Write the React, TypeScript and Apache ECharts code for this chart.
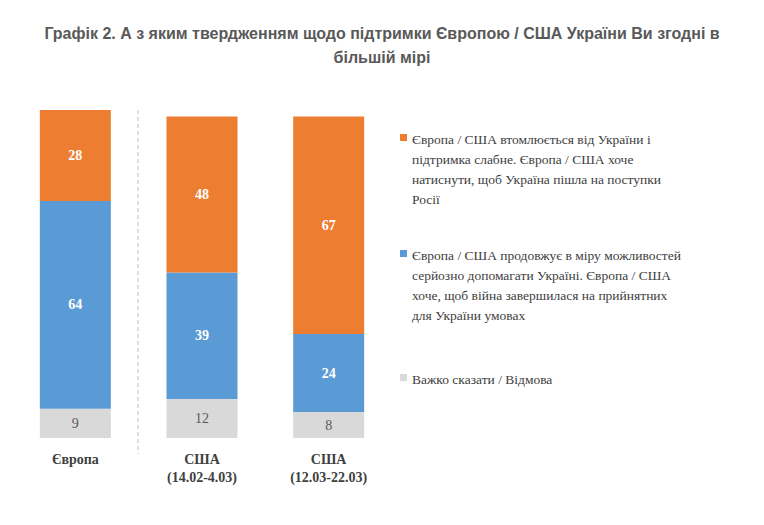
import React, { useEffect, useRef } from 'react';
import * as echarts from 'echarts';

const categories = ['Європа', 'США\n(14.02-4.03)', 'США\n(12.03-22.03)'];
const hardToSay = [9, 12, 8];
const helps = [64, 39, 24];
const tired = [28, 48, 67];

const nameTired = 'Європа / США втомлюється від України і\nпідтримка слабне. Європа / США хоче\nнатиснути, щоб Україна пішла на поступки\nРосії';
const nameHelps = 'Європа / США продовжує в міру можливостей\nсерйозно допомагати Україні. Європа / США\nхоче, щоб війна завершилася на прийнятних\nдля України умовах';
const nameHard = 'Важко сказати / Відмова';

const colors = { tired: '#ED7D31', helps: '#5B9BD5', hard: '#D9D9D9' };
const serif = '"Liberation Serif", "Times New Roman", serif';
const sans = 'Arial, "Liberation Sans", sans-serif';

const legendItem = (name: string, color: string, top: number) => [
  { type: 'rect', shape: { x: 392, y: top + 5, width: 7, height: 7 }, style: { fill: color } },
  {
    type: 'text',
    x: 404,
    y: top,
    style: { text: name, fontFamily: serif, fontSize: 13.5, fill: '#404040', lineHeight: 20 },
  },
];

const App = () => {
  const chartRef = useRef<HTMLDivElement>(null);

  useEffect(() => {
    let chart: echarts.ECharts | null = null;
    if (chartRef.current) {
      chart = echarts.init(chartRef.current, null, { renderer: 'svg' });
      const titleStyle = { fontFamily: sans, fontSize: 16, fontWeight: 'bold' as const, color: '#595959' };
      chart.setOption({
        animation: false,
        title: [
          {
            text: 'Графік 2. А з яким твердженням щодо підтримки Європою / США України Ви згодні в',
            left: 'center',
            top: 12,
            textStyle: titleStyle,
          },
          { text: 'більшій мірі', left: 'center', top: 36, textStyle: titleStyle },
        ],
        grid: { left: 4, width: 380, top: 102, bottom: 79 },
        xAxis: {
          type: 'category',
          data: categories,
          axisLine: { show: false },
          axisTick: { show: false },
          axisLabel: { fontFamily: serif, fontSize: 14, fontWeight: 'bold', color: '#404040', margin: 12, lineHeight: 18 },
        },
        yAxis: { type: 'value', min: 0, max: 101, show: false },
        graphic: [
          {
            type: 'line',
            shape: { x1: 130, y1: 102, x2: 130, y2: 446 },
            style: { stroke: '#BFBFBF', lineWidth: 1, lineDash: [4, 3] },
          },
          ...legendItem(nameTired, colors.tired, 121),
          ...legendItem(nameHelps, colors.helps, 237),
          ...legendItem(nameHard, colors.hard, 361),
        ],
        series: [
          {
            name: nameHard,
            type: 'bar',
            stack: 's',
            barWidth: 71,
            data: hardToSay,
            itemStyle: { color: colors.hard },
            label: { show: true, color: '#595959', fontFamily: serif, fontSize: 14 },
          },
          {
            name: nameHelps,
            type: 'bar',
            stack: 's',
            data: helps,
            itemStyle: { color: colors.helps },
            label: { show: true, color: '#fff', fontFamily: serif, fontSize: 14, fontWeight: 'bold' },
          },
          {
            name: nameTired,
            type: 'bar',
            stack: 's',
            data: tired,
            itemStyle: { color: colors.tired },
            label: { show: true, color: '#fff', fontFamily: serif, fontSize: 14, fontWeight: 'bold' },
          },
        ],
      });
    }
    return () => {
      chart?.dispose();
    };
  }, []);

  return <div ref={chartRef} style={{ width: 748, height: 509 }} />;
};

export default App;
